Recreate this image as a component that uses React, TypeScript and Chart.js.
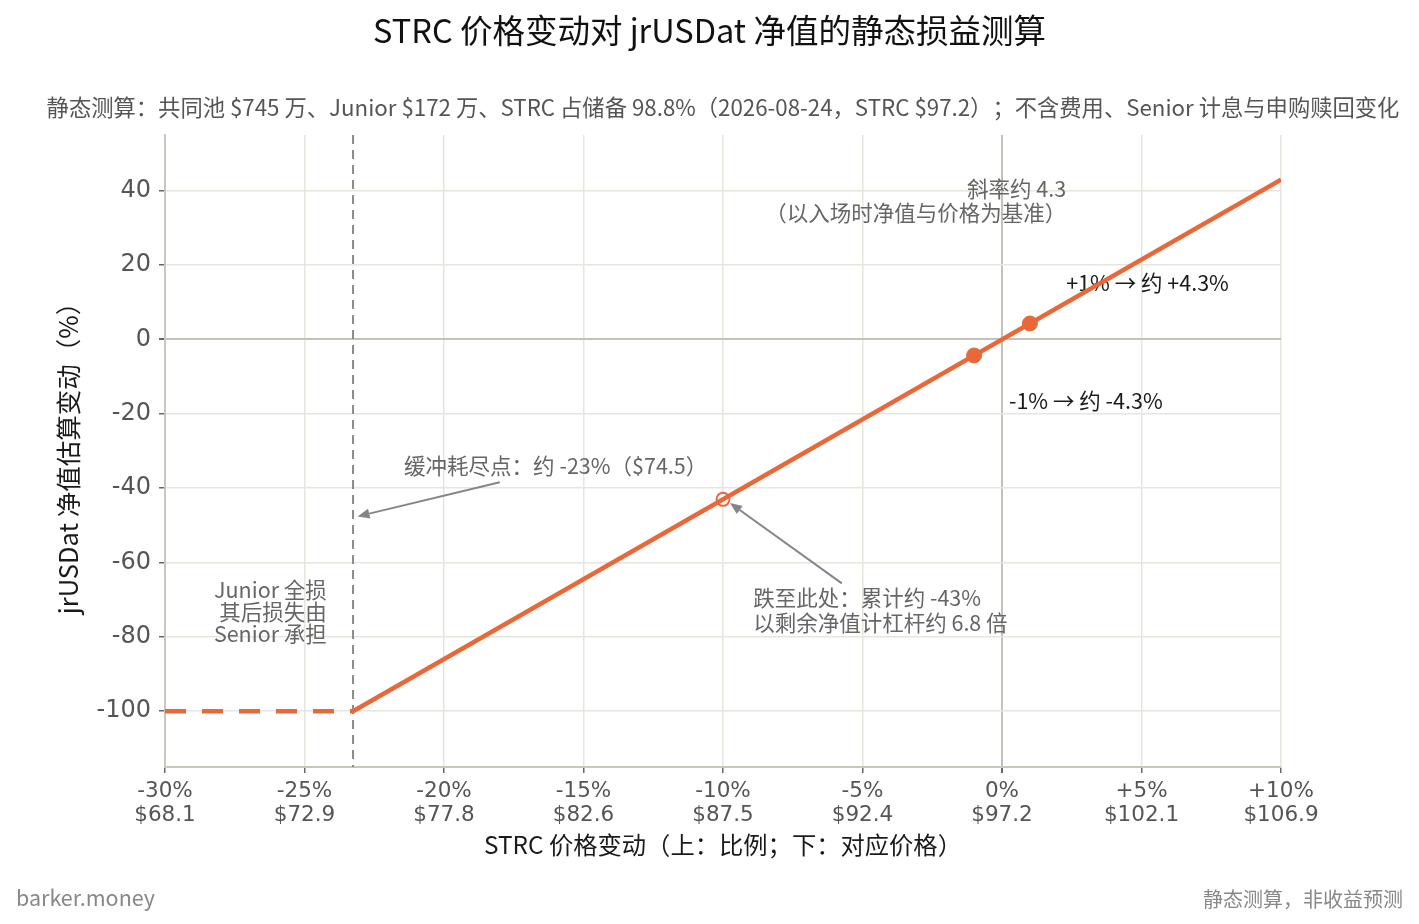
import { useEffect, useRef } from "react";
import { Chart, registerables } from "chart.js";

Chart.register(...registerables);

const FONT = '"Noto Sans CJK SC", "Noto Sans", sans-serif';
const TICK_FONT = '"DejaVu Sans", "Noto Sans CJK SC", sans-serif';
const ORANGE = "#E8683A";
const GRAY_TEXT = "#666666";
const DARK = "#1a1a1a";

// x axis: STRC price change (%) and the matching price
const xTicks = [-30, -25, -20, -15, -10, -5, 0, 5, 10];
const pctLabels = ["-30%", "-25%", "-20%", "-15%", "-10%", "-5%", "0%", "+5%", "+10%"];
const priceLabels = ["$68.1", "$72.9", "$77.8", "$82.6", "$87.5", "$92.4", "$97.2", "$102.1", "$106.9"];
const yTicks = [-100, -80, -60, -40, -20, 0, 20, 40];

// junior wiped out below the buffer end
const bufferEnd = -23.26;
const wipeX = [-30, -23.26];
const wipeY = [-100, -100];
// linear zone, slope about 4.3
const slopeX = [-23.26, 10];
const slopeY = [-100, 43];
// +/-1% markers
const stepX = [-1, 1];
const stepY = [-4.3, 4.3];
// -10% drawdown point
const dropX = [-10];
const dropY = [-43];

const toPts = (xs: number[], ys: number[]) => xs.map((x, i) => ({ x, y: ys[i] }));

// annotation placement (data coords)
const notes = [
  { lines: ["斜率约 4.3", "（以入场时净值与价格为基准）"], x: 2.3, y: [40.6, 34.1], align: "right", color: GRAY_TEXT },
  { lines: ["+1% → 约 +4.3%"], x: 2.3, y: [15.3], align: "left", color: DARK },
  { lines: ["-1% → 约 -4.3%"], x: 0.25, y: [-16.4], align: "left", color: DARK },
  { lines: ["缓冲耗尽点：约 -23%（$74.5）"], x: -21.43, y: [-33.9], align: "left", color: GRAY_TEXT },
  { lines: ["跌至此处：累计约 -43%", "以剩余净值计杠杆约 6.8 倍"], x: -8.92, y: [-69.6, -76.1], align: "left", color: GRAY_TEXT },
  { lines: ["Junior 全损", "其后损失由", "Senior 承担"], x: -24.2, y: [-67.3, -73.2, -79.1], align: "right", color: GRAY_TEXT },
];
const arrows = [
  { from: [-18.0, -38.4], to: [-23.1, -47.6] },
  { from: [-5.74, -65.6], to: [-9.75, -44.0] },
];

const overlay = {
  id: "overlay",
  beforeDatasetsDraw(chart: any) {
    const { ctx, chartArea: a, scales } = chart;
    const xs = scales.x;
    const ys = scales.y;
    ctx.save();
    // buffer end marker
    const vx = xs.getPixelForValue(bufferEnd);
    ctx.strokeStyle = "#8a8a8a";
    ctx.lineWidth = 2;
    ctx.setLineDash([9, 6]);
    ctx.beginPath();
    ctx.moveTo(vx, a.top);
    ctx.lineTo(vx, a.bottom);
    ctx.stroke();
    ctx.setLineDash([]);

    ctx.font = `21.5px ${FONT}`;
    ctx.textBaseline = "middle";
    for (const n of notes) {
      ctx.fillStyle = n.color;
      ctx.textAlign = n.align as CanvasTextAlign;
      n.lines.forEach((t, i) => ctx.fillText(t, xs.getPixelForValue(n.x), ys.getPixelForValue(n.y[i])));
    }

    ctx.strokeStyle = "#858585";
    ctx.fillStyle = "#858585";
    ctx.lineWidth = 2;
    for (const ar of arrows) {
      const x1 = xs.getPixelForValue(ar.from[0]);
      const y1 = ys.getPixelForValue(ar.from[1]);
      const x2 = xs.getPixelForValue(ar.to[0]);
      const y2 = ys.getPixelForValue(ar.to[1]);
      const ang = Math.atan2(y2 - y1, x2 - x1);
      const hl = 12;
      const hw = 5;
      const bx = x2 - hl * Math.cos(ang);
      const by = y2 - hl * Math.sin(ang);
      ctx.beginPath();
      ctx.moveTo(x1, y1);
      ctx.lineTo(bx, by);
      ctx.stroke();
      ctx.beginPath();
      ctx.moveTo(x2, y2);
      ctx.lineTo(bx + hw * Math.sin(ang), by - hw * Math.cos(ang));
      ctx.lineTo(bx - hw * Math.sin(ang), by + hw * Math.cos(ang));
      ctx.closePath();
      ctx.fill();
    }
    ctx.restore();
  },
  afterDraw(chart: any) {
    const { ctx, chartArea: a, width } = chart;
    ctx.save();
    ctx.textBaseline = "middle";
    ctx.textAlign = "center";
    ctx.fillStyle = "#111111";
    ctx.font = `32.5px ${FONT}`;
    ctx.fillText("STRC 价格变动对 jrUSDat 净值的静态损益测算", width / 2, 31);

    ctx.fillStyle = "#555555";
    ctx.font = `22.3px ${FONT}`;
    ctx.fillText(
      "静态测算：共同池 $745 万、Junior $172 万、STRC 占储备 98.8%（2026-08-24，STRC $97.2）；不含费用、Senior 计息与申购赎回变化",
      (a.left + a.right) / 2,
      108
    );

    ctx.fillStyle = DARK;
    ctx.font = `24.3px ${FONT}`;
    ctx.fillText("STRC 价格变动（上：比例；下：对应价格）", (a.left + a.right) / 2, 845);

    ctx.save();
    ctx.font = `25.5px ${FONT}`;
    ctx.translate(68, 452);
    ctx.rotate(-Math.PI / 2);
    ctx.fillText("jrUSDat 净值估算变动（%）", 0, 0);
    ctx.restore();

    ctx.fillStyle = "#888888";
    ctx.font = `21.5px ${FONT}`;
    ctx.textAlign = "left";
    ctx.fillText("barker.money", 16, 898);
    ctx.font = `20px ${FONT}`;
    ctx.textAlign = "right";
    ctx.fillText("静态测算，非收益预测", width - 16, 899);
    ctx.restore();
  },
};

export default function App() {
  const canvasRef = useRef<HTMLCanvasElement>(null);

  useEffect(() => {
    document.body.style.margin = "0";
    if (!canvasRef.current) return;

    const chart = new Chart(canvasRef.current, {
      type: "line",
      data: {
        datasets: [
          {
            data: toPts(wipeX, wipeY),
            borderColor: ORANGE,
            borderWidth: 4.5,
            borderDash: [21, 16],
            pointRadius: 0,
          },
          {
            data: toPts(slopeX, slopeY),
            borderColor: ORANGE,
            borderWidth: 4.5,
            pointRadius: 0,
          },
          {
            data: toPts(stepX, stepY),
            showLine: false,
            pointRadius: 7.5,
            pointBackgroundColor: ORANGE,
            pointBorderColor: ORANGE,
          },
          {
            data: toPts(dropX, dropY),
            showLine: false,
            pointRadius: 6.5,
            pointBorderWidth: 2,
            pointBackgroundColor: "#ffffff",
            pointBorderColor: ORANGE,
          },
        ],
      },
      options: {
        animation: false,
        responsive: true,
        maintainAspectRatio: false,
        layout: { padding: { top: 135, right: 138, left: 0, bottom: 0 } },
        plugins: {
          legend: { display: false },
          tooltip: { enabled: false },
        },
        scales: {
          x: {
            type: "linear",
            min: -30,
            max: 10,
            afterFit: (s: any) => {
              s.height = 157;
            },
            afterBuildTicks: (s: any) => {
              s.ticks = xTicks.map((value) => ({ value }));
            },
            grid: {
              color: (c: any) => (c.tick && c.tick.value === 0 ? "#c2c2b8" : "#e6e6df"),
              lineWidth: (c: any) => (c.tick && c.tick.value === 0 ? 2 : 1.5),
              tickColor: "#666666",
              tickLength: 6,
            },
            border: { color: "#c8c8bd", width: 2 },
            ticks: {
              padding: 7,
              color: "#555555",
              font: { family: TICK_FONT, size: 21.5, lineHeight: 1.1 },
              maxRotation: 0,
              callback: (v: any) => {
                const i = xTicks.indexOf(Number(v));
                return i < 0 ? "" : [pctLabels[i], priceLabels[i]];
              },
            },
          },
          y: {
            type: "linear",
            min: -115,
            max: 55,
            afterFit: (s: any) => {
              s.width = 165;
            },
            afterBuildTicks: (s: any) => {
              s.ticks = yTicks.map((value) => ({ value }));
            },
            grid: {
              color: (c: any) => (c.tick && c.tick.value === 0 ? "#c2c2b8" : "#e6e6df"),
              lineWidth: (c: any) => (c.tick && c.tick.value === 0 ? 2 : 1.5),
              tickColor: "#666666",
              tickLength: 6,
            },
            border: { color: "#c8c8bd", width: 2 },
            ticks: {
              padding: 8,
              color: "#555555",
              font: { family: TICK_FONT, size: 24 },
              callback: (v: any) => String(v),
            },
          },
        },
      },
      plugins: [overlay],
    });

    return () => chart.destroy();
  }, []);

  return (
    <div style={{ width: 1419, height: 924, position: "relative", background: "#ffffff" }}>
      <canvas
        ref={canvasRef}
        role="img"
        aria-label="STRC 价格变动对 jrUSDat 净值的静态损益测算"
      />
    </div>
  );
}
